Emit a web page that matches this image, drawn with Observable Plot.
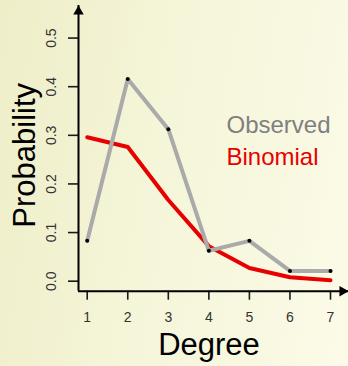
<!DOCTYPE html>
<html>
<head>
<meta charset="utf-8">
<script src="https://cdn.jsdelivr.net/npm/d3@7"></script>
<script src="https://cdn.jsdelivr.net/npm/@observablehq/plot@0.6"></script>
<style>
  html, body { margin: 0; padding: 0; }
  body {
    width: 348px; height: 366px; overflow: hidden;
    background: linear-gradient(100deg, #eeeec9 0%, #f5f5d9 45%, #fbfbe8 100%);
    font-family: "Liberation Sans", Arial, sans-serif;
  }
  svg { display: block; }
</style>
</head>
<body>
<div id="chart"></div>
<script>
const degree = [1, 2, 3, 4, 5, 6, 7];
const observed = [0.083, 0.416, 0.3125, 0.0625, 0.083, 0.021, 0.021];
const binomial = [0.296, 0.276, 0.167, 0.072, 0.027, 0.008, 0.002];
const xTicks = [1, 2, 3, 4, 5, 6, 7];
const yTicks = [0, 0.1, 0.2, 0.3, 0.4, 0.5];
const xDomain = [0.785, 7.444];
const yDomain = [-0.0206, 0.567];
const seriesLabels = ["Observed", "Binomial"];
const seriesColors = ["#888888", "#e80000"];

const obsData = degree.map((d, i) => ({x: d, y: observed[i]}));
const binData = degree.map((d, i) => ({x: d, y: binomial[i]}));

const chart = Plot.plot({
  width: 348,
  height: 366,
  marginLeft: 78,
  marginRight: 0,
  marginTop: 5,
  marginBottom: 75.3,
  x: {domain: xDomain},
  y: {domain: yDomain},
  style: {background: "transparent", color: "#1a1a1a", fontFamily: "'Liberation Sans', Arial, sans-serif", overflow: "visible"},
  marks: [
    Plot.axisY({ticks: yTicks, tickSize: 10, tickFormat: () => "", label: null, strokeWidth: 1.6}),
    Plot.axisX({ticks: xTicks, tickSize: 9, tickPadding: 12, tickFormat: d3.format("d"), fontSize: 14, label: null, strokeWidth: 1.6, fill: "#333"}),
    Plot.text(yTicks, {y: d => d, frameAnchor: "left", dx: -27, rotate: -90, text: d => d.toFixed(1), textAnchor: "middle", lineAnchor: "middle", fontSize: 14, fill: "#333"}),
    Plot.ruleX([xDomain[0]], {y1: yDomain[0], y2: yDomain[1], stroke: "black", strokeWidth: 2}),
    Plot.ruleY([yDomain[0]], {x1: xDomain[0], x2: xDomain[1], stroke: "black", strokeWidth: 2}),
    Plot.dot([0], {x: () => xDomain[0], y: () => yDomain[1], symbol: "triangle", r: 3.9, fill: "black", stroke: null, dy: 6}),
    Plot.dot([0], {x: () => xDomain[1], y: () => yDomain[0], symbol: "triangle", r: 3.9, fill: "black", stroke: null, dx: -6, rotate: 90}),
    Plot.line(binData, {x: "x", y: "y", stroke: seriesColors[1], strokeWidth: 4, strokeLinejoin: "round"}),
    Plot.line(obsData, {x: "x", y: "y", stroke: "#aaaaaa", strokeWidth: 4, strokeLinejoin: "miter"}),
    Plot.dot(obsData, {x: "x", y: "y", r: 2, fill: "black", stroke: null}),
    Plot.text([seriesLabels[0]], {frameAnchor: "top-left", dx: 148, dy: 127, text: d => d, textAnchor: "start", lineAnchor: "bottom", fontSize: 24, fill: "#7f7f7f"}),
    Plot.text([seriesLabels[1]], {frameAnchor: "top-left", dx: 148, dy: 159, text: d => d, textAnchor: "start", lineAnchor: "bottom", fontSize: 24, fill: seriesColors[1]}),
    Plot.text(["Probability"], {frameAnchor: "left", dx: -44, dy: 7, rotate: -90, text: d => d, textAnchor: "middle", lineAnchor: "bottom", fontSize: 31, fill: "black"}),
    Plot.text(["Degree"], {frameAnchor: "bottom", dx: -4.5, dy: 63.3, text: d => d, textAnchor: "middle", lineAnchor: "bottom", fontSize: 31, fill: "black"})
  ]
});
document.getElementById("chart").appendChild(chart);
</script>
</body>
</html>
